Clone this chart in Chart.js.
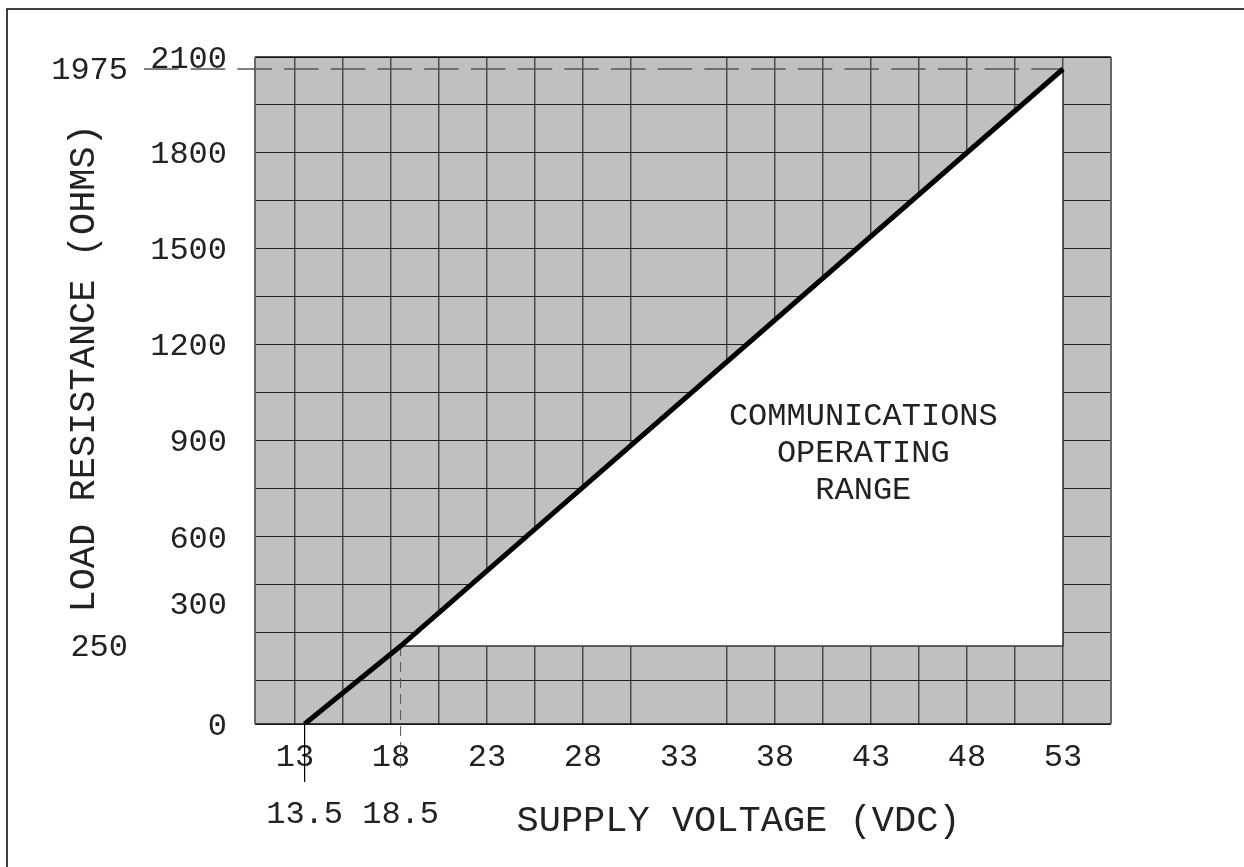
<!DOCTYPE html>
<html>
<head>
<meta charset="utf-8">
<script src="https://cdn.jsdelivr.net/npm/chart.js@4.4.0/dist/chart.umd.min.js"></script>
<style>
html,body{margin:0;padding:0;background:#fff;}
#wrap{width:1244px;height:867px;position:relative;}
</style>
</head>
<body>
<div id="wrap"><canvas id="c" width="1244" height="867"></canvas></div>
<script>
const FONT = 'Liberation Mono';
const TEXT = '#222';

// ---- data ----
const lineVoltage = [13.5, 18.5, 53];
const lineResistance = [0, 250, 1975];
const minLoad = 250;
const maxVoltage = 53;
const maxLoad = 1975;

const xLabelTicks = [13, 18, 23, 28, 33, 38, 43, 48, 53];
const xMarkerTicks = [13.5, 18.5];
const xGridLines = [13, 15.5, 18, 20.5, 23, 25.5, 28, 30.5, 35.5, 38, 40.5, 43, 45.5, 48, 50.5, 53];
const yTickValues = [0, 300, 600, 900, 1200, 1500, 1800, 2100];
const ySideTicks = [250, 1975];
const rangeLabel = ['COMMUNICATIONS', 'OPERATING', 'RANGE'];
const rangeLabelAt = {x: 42.6, y: 858};

// ---- non-linear (hand-drawn) resistance axis breaks ----
const yBreakValues = [0, 250, 300, 600, 900, 1200, 1500, 1800, 1975, 2100];
const yBreakFractions = [0, 0.1169, 0.1814, 0.2804, 0.4258, 0.5697, 0.7136, 0.8576, 0.982, 1];

function interp(v, xs, ys) {
  const n = xs.length - 1;
  if (v <= xs[0]) return ys[0] + (v - xs[0]) * (ys[1] - ys[0]) / (xs[1] - xs[0]);
  for (let i = 1; i <= n; i++) {
    if (v <= xs[i]) return ys[i - 1] + (v - xs[i - 1]) * (ys[i] - ys[i - 1]) / (xs[i] - xs[i - 1]);
  }
  return ys[n] + (v - xs[n]) * (ys[n] - ys[n - 1]) / (xs[n] - xs[n - 1]);
}

class BrokenScale extends Chart.LinearScale {
  getPixelForValue(v) { return this.getPixelForDecimal(interp(v, yBreakValues, yBreakFractions)); }
  getValueForPixel(p) { return interp(this.getDecimalForPixel(p), yBreakFractions, yBreakValues); }
}
BrokenScale.id = 'broken';
BrokenScale.defaults = Chart.LinearScale.defaults;
Chart.register(BrokenScale);

const decor = {
  id: 'decor',
  beforeDraw(chart) {
    const {ctx, chartArea: a} = chart;
    ctx.save();
    ctx.fillStyle = '#fff';
    ctx.fillRect(0, 0, chart.width, chart.height);
    ctx.fillStyle = '#c0c0c0';
    ctx.fillRect(a.left, a.top, a.right - a.left, a.bottom - a.top);
    ctx.strokeStyle = '#000';
    ctx.lineWidth = 1.5;
    ctx.beginPath();
    ctx.moveTo(7, chart.height);
    ctx.lineTo(7, 9);
    ctx.lineTo(chart.width, 9);
    ctx.stroke();
    ctx.restore();
  },
  beforeDatasetsDraw(chart) {
    const {ctx, chartArea: a} = chart;
    const x = chart.scales.x, y = chart.scales.y;
    ctx.save();
    // plot outline
    ctx.lineWidth = 1.5;
    ctx.strokeStyle = '#111';
    ctx.beginPath();
    ctx.moveTo(a.left, a.top); ctx.lineTo(a.right, a.top);
    ctx.moveTo(a.left, a.bottom); ctx.lineTo(a.right, a.bottom);
    ctx.stroke();
    ctx.strokeStyle = '#666';
    ctx.lineWidth = 2;
    ctx.beginPath();
    ctx.moveTo(a.left, a.top); ctx.lineTo(a.left, a.bottom);
    ctx.moveTo(a.right, a.top); ctx.lineTo(a.right, a.bottom);
    ctx.stroke();
    // 1975 dashed leader
    const yTop = y.getPixelForValue(maxLoad);
    ctx.strokeStyle = '#555';
    ctx.lineWidth = 1.5;
    ctx.setLineDash([34.5, 12.2]);
    ctx.beginPath();
    ctx.moveTo(y.left - 6, yTop);
    ctx.lineTo(x.getPixelForValue(maxVoltage), yTop);
    ctx.stroke();
    // 18.5 dashed leader
    const x185 = x.getPixelForValue(xMarkerTicks[1]);
    ctx.setLineDash([10, 6]);
    ctx.lineWidth = 1;
    ctx.beginPath();
    ctx.moveTo(x185, y.getPixelForValue(minLoad));
    ctx.lineTo(x185, x.top + 50);
    ctx.stroke();
    // 13.5 solid leader
    const x135 = x.getPixelForValue(xMarkerTicks[0]);
    ctx.setLineDash([]);
    ctx.strokeStyle = '#000';
    ctx.lineWidth = 1.2;
    ctx.beginPath();
    ctx.moveTo(x135, y.getPixelForValue(0));
    ctx.lineTo(x135, x.top + 58);
    ctx.stroke();
    ctx.restore();
  },
  afterDatasetsDraw(chart) {
    const {ctx} = chart;
    const x = chart.scales.x, y = chart.scales.y;
    ctx.save();
    ctx.font = '32px "' + FONT + '"';
    ctx.fillStyle = TEXT;
    ctx.textAlign = 'center';
    ctx.textBaseline = 'middle';
    const cx = x.getPixelForValue(rangeLabelAt.x), cy = y.getPixelForValue(rangeLabelAt.y);
    rangeLabel.forEach((t, i) => ctx.fillText(t, cx, cy + (i - 1) * 37));
    ctx.restore();
  }
};

const tickFont = {family: FONT, size: 32};
const titleFont = {family: FONT, size: 37};

new Chart(document.getElementById('c'), {
  type: 'line',
  data: {
    datasets: [
      {
        data: lineVoltage.slice(1).map((v, i) => ({x: v, y: lineResistance[i + 1]})),
        borderWidth: 0, borderColor: 'rgba(0,0,0,0)', backgroundColor: '#ffffff',
        fill: {value: minLoad}, pointRadius: 0, order: 3, xAxisID: 'x', yAxisID: 'y'
      },
      {
        data: [{x: lineVoltage[1], y: minLoad}, {x: maxVoltage, y: minLoad}, {x: maxVoltage, y: maxLoad}],
        borderColor: '#333', borderWidth: 1.5, fill: false, pointRadius: 0, order: 2, xAxisID: 'x', yAxisID: 'y'
      },
      {
        data: lineVoltage.map((v, i) => ({x: v, y: lineResistance[i]})),
        borderColor: '#000', borderWidth: 5, fill: false, pointRadius: 0, order: 1,
        borderCapStyle: 'butt', xAxisID: 'x', yAxisID: 'y'
      }
    ]
  },
  options: {
    responsive: false,
    animation: false,
    layout: {padding: {top: 57, right: 133, bottom: 0, left: 0}},
    plugins: {legend: {display: false}, tooltip: {enabled: false}},
    scales: {
      x: {
        type: 'linear', position: 'bottom', min: 10.9167, max: 55.5,
        afterBuildTicks: s => {
          s.ticks = [...new Set([...xGridLines, ...xLabelTicks, ...xMarkerTicks])]
            .sort((a, b) => a - b).map(v => ({value: v}));
        },
        afterFit: s => { s.height = 143; },
        ticks: {
          autoSkip: false, maxRotation: 0, minRotation: 0, padding: 5, color: TEXT,
          font: {family: FONT, size: 32, lineHeight: 1.78},
          callback: v => xLabelTicks.includes(v) ? String(v) : (xMarkerTicks.includes(v) ? ['', String(v)] : '')
        },
        grid: {
          drawTicks: false, lineWidth: 1.5,
          color: c => (c.tick && xGridLines.includes(c.tick.value)) ? '#4a4a4a' : 'rgba(0,0,0,0)'
        },
        border: {display: false},
        title: {display: true, text: '     SUPPLY VOLTAGE (VDC)', color: TEXT, font: titleFont, padding: {top: 0, bottom: 24}}
      },
      y: {
        type: 'broken', position: 'left', weight: 1, min: 0, max: 2100,
        afterBuildTicks: s => { s.ticks = yTickValues.map(v => ({value: v})); },
        afterFit: s => { s.width = 105; },
        ticks: {padding: 20, labelOffset: 3, color: TEXT, font: tickFont, callback: v => String(v)},
        grid: {display: false}, border: {display: false}
      },
      y2: {
        type: 'broken', position: 'left', weight: 2, min: 0, max: 2100,
        afterBuildTicks: s => { s.ticks = ySideTicks.map(v => ({value: v})); },
        afterFit: s => { s.width = 150; },
        ticks: {padding: 14, labelOffset: 2, color: TEXT, font: tickFont, callback: v => String(v)},
        grid: {display: false}, border: {display: false},
        title: {display: true, text: '  LOAD RESISTANCE (OHMS)', color: TEXT, font: titleFont, padding: {top: 62, bottom: 0}}
      },
      yGrid: {
        type: 'linear', position: 'left', weight: 0, min: 0, max: 13.896, reverse: true,
        afterFit: s => { s.width = 0; },
        ticks: {display: false, stepSize: 1},
        grid: {drawTicks: false, color: '#222', lineWidth: 1},
        border: {display: false}
      }
    }
  },
  plugins: [decor]
});
</script>
</body>
</html>
